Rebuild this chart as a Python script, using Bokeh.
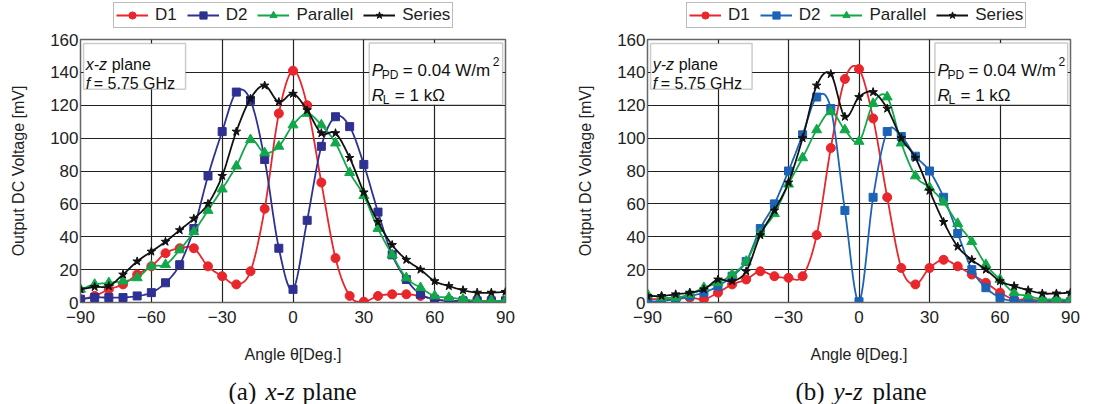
import numpy as np
from bokeh.plotting import figure
from bokeh.layouts import row, column
from bokeh.models import Legend, LegendItem, Label, BoxAnnotation, FixedTicker, Range1d
from bokeh.embed import file_html
from bokeh.resources import INLINE

angles = list(range(-90, 91, 6))

# (a) x-z plane
xz_d1 = [2, 4, 8, 11, 17, 22, 30, 33, 33, 22, 16, 11, 19, 57, 115, 141, 120, 73, 27, 4,
         0.5, 4, 5, 5, 4, 2, 1, 1, 1, 1, 1]
xz_d2 = [2, 3, 3, 3, 4, 6, 12, 23, 45, 77, 104, 128, 123, 87, 33, 8, 50, 95, 113, 107,
         84, 55, 29, 14, 5, 2, 1, 1, 1, 1, 1]
xz_par = [8, 11, 12, 13, 15, 22, 23, 32, 43, 56, 69, 83, 99, 91, 95, 108, 115, 108, 97, 79,
          65, 45, 29, 15, 9, 4, 3, 2, 1, 1, 1]
xz_ser = [8, 9.5, 10, 17, 25, 31, 37, 44, 51, 60, 77, 104, 124, 132, 122, 127, 117, 103, 103, 88,
          67, 49, 35, 26, 20, 13, 10, 7.5, 6, 6, 6.5]

# (b) y-z plane
yz_d1 = [2, 2, 2, 3, 2, 6, 11, 14, 19, 16, 15, 16, 41, 94, 136, 142, 112, 64, 21, 11,
         21, 26, 22, 17, 12, 6, 2, 2, 1, 1, 1]
yz_d2 = [0.5, 1, 2, 4, 6, 10, 16, 25, 45, 60, 80, 102, 125, 118, 56, 0.5, 64, 104, 101, 89,
         80, 64, 42, 20, 9, 3, 1, 1, 0.5, 0.5, 0.5]
yz_par = [5, 3, 3, 5, 9, 12, 17, 25, 42, 54, 72, 88, 105, 116, 105, 98, 121, 125, 97, 77,
          70, 61, 48, 37, 23, 14, 6, 4, 2, 2, 1.5]
yz_ser = [4, 4, 5, 6, 8, 14, 13, 19, 41, 56, 73, 100, 132, 139, 113, 125, 128, 118, 100, 88,
          68, 49, 34, 26, 20, 13, 10, 7.5, 5.5, 5.5, 6]

series_names = ["D1", "D2", "Parallel", "Series"]
x_ticks = [-90, -60, -30, 0, 30, 60, 90]
y_ticks = [0, 20, 40, 60, 80, 100, 120, 140, 160]

RED = "#e8262b"
GREEN = "#12a84a"
BLACK = "#111111"
FONT = "Liberation Sans"
SERIF = "Liberation Serif"

LEG_H = 29     # legend strip height
CAP_H = 36     # caption strip height
MAIN_H = 404 - LEG_H - CAP_H


def smooth(x, y, n=10):
    """Catmull-Rom curve through the measured points (for the drawn line only)."""
    x = np.asarray(x, float)
    y = np.asarray(y, float)
    px = np.concatenate([[2 * x[0] - x[1]], x, [2 * x[-1] - x[-2]]])
    py = np.concatenate([[2 * y[0] - y[1]], y, [2 * y[-1] - y[-2]]])
    t = np.linspace(0, 1, n, endpoint=False)
    ox, oy = [], []
    for i in range(1, len(px) - 2):
        for arr, out in ((px, ox), (py, oy)):
            p0, p1, p2, p3 = arr[i - 1], arr[i], arr[i + 1], arr[i + 2]
            out.extend(0.5 * (2 * p1 + (-p0 + p2) * t + (2 * p0 - 5 * p1 + 4 * p2 - p3) * t ** 2
                              + (-p0 + 3 * p1 - 3 * p2 + p3) * t ** 3))
    ox.append(x[-1])
    oy.append(y[-1])
    return ox, oy


def strip(width, height, bl, br):
    fw = width - bl - br
    s = figure(width=width, height=height, x_range=Range1d(0, fw), y_range=Range1d(0, height),
               output_backend="svg", toolbar_location=None,
               x_axis_location=None, y_axis_location=None,
               min_border_left=bl, min_border_right=br, min_border_top=0, min_border_bottom=0)
    s.outline_line_color = None
    s.xgrid.visible = False
    s.ygrid.visible = False
    s.background_fill_color = "white"
    s.border_fill_color = "white"
    # a range far away from the strip's view, for legend swatch renderers
    s.extra_y_ranges = {"off": Range1d(10000, 10001)}
    return s


def panel(width, bl, br, d1, d2, par, ser, blue, plane, tag, cap_x, cap_offsets, leg_x):
    p = figure(width=width, height=MAIN_H, x_range=Range1d(-90, 90), y_range=Range1d(0, 160),
               output_backend="svg", toolbar_location=None,
               min_border_left=bl, min_border_right=br,
               min_border_top=39 - LEG_H, min_border_bottom=(404 - CAP_H) - 302)
    p.background_fill_color = "white"
    p.border_fill_color = "white"
    p.outline_line_color = "#666666"
    p.outline_line_width = 1.5

    p.xaxis.ticker = FixedTicker(ticks=x_ticks)
    p.yaxis.ticker = FixedTicker(ticks=y_ticks)
    p.xgrid.ticker = FixedTicker(ticks=x_ticks)
    p.ygrid.ticker = FixedTicker(ticks=y_ticks)
    for g in (p.xgrid, p.ygrid):
        g.grid_line_color = "#222222"
        g.grid_line_width = 1.2
        g.grid_line_alpha = 1.0
    for ax in (p.xaxis, p.yaxis):
        ax.major_tick_line_color = None
        ax.minor_tick_line_color = None
        ax.major_tick_out = 0
        ax.major_tick_in = 0
        ax.axis_line_color = "#666666"
        ax.major_label_text_font = FONT
        ax.major_label_text_font_size = "17px"
        ax.major_label_text_color = "#222222"
        ax.axis_label_text_font = FONT
        ax.axis_label_text_font_size = "16px"
        ax.axis_label_text_font_style = "normal"
        ax.axis_label_text_color = "#222222"
    p.xaxis.major_label_standoff = 8
    p.yaxis.major_label_standoff = 2
    p.xaxis.axis_label = "Angle θ[Deg.]"
    p.yaxis.axis_label = "Output DC Voltage [mV]"
    p.xaxis.axis_label_standoff = 20
    p.yaxis.axis_label_standoff = 20

    # legend strip above the chart (same frame alignment as the chart)
    lg = strip(width, LEG_H, bl, br)

    specs = [
        (d1, RED, "circle", 9),
        (d2, blue, "square", 8),
        (par, GREEN, "triangle", 10),
        (ser, BLACK, "star", 9),
    ]
    items = []
    for (vals, col, mk, sz), name in zip(specs, series_names):
        sx, sy = smooth(angles, vals)
        p.line(sx, sy, line_color=col, line_width=1.8)
        p.scatter(angles, vals, marker=mk, size=sz, fill_color=col, line_color=col)
        # legend swatches: same data, on a range outside the strip's view
        ln = lg.line(angles, vals, line_color=col, line_width=1.8, y_range_name="off")
        sc = lg.scatter(angles, vals, marker=mk, size=sz, fill_color=col, line_color=col,
                        y_range_name="off")
        items.append(LegendItem(label=name, renderers=[ln, sc]))

    legend = Legend(items=items, orientation="horizontal", location=(leg_x - bl, 1),
                    glyph_width=32, glyph_height=18, label_standoff=7, spacing=10,
                    padding=2, margin=0, border_line_color="#777777", border_line_width=1.5,
                    label_text_font=FONT, label_text_font_size="17px",
                    label_text_color="#222222", background_fill_color="white")
    lg.add_layout(legend)

    # info boxes
    p.add_layout(BoxAnnotation(left=-88.7, right=-45.5, top=157.5, bottom=129.8,
                               fill_color="white", fill_alpha=1.0,
                               line_color="#555555", line_width=1.5, level="overlay"))
    p.add_layout(BoxAnnotation(left=32.3, right=88.8, top=157.8, bottom=120.3,
                               fill_color="white", fill_alpha=1.0,
                               line_color="#555555", line_width=1.5, level="overlay"))

    def txt(fig, x, y, s, size="16px", style="normal", xo=0, font=FONT, color="#111111"):
        fig.add_layout(Label(x=x, y=y, text=s, x_offset=xo, text_font=font,
                             text_font_size=size, text_font_style=style,
                             text_color=color, text_baseline="alphabetic", level="overlay"))

    txt(p, -87.8, 145.0, plane, style="italic")
    txt(p, -87.8, 145.0, "plane", xo=26)
    txt(p, -87.8, 133.0, "f", style="italic")
    txt(p, -87.8, 133.0, "= 5.75 GHz", xo=8)

    txt(p, 33.4, 141.0, "P", size="17px", style="italic")
    txt(p, 33.4, 138.2, "PD", size="12px", xo=10)
    txt(p, 33.4, 141.0, "= 0.04 W/m", size="17px", xo=31)
    txt(p, 33.4, 146.5, "2", size="12px", xo=121)
    txt(p, 33.4, 125.8, "R", size="17px", style="italic")
    txt(p, 33.4, 123.0, "L", size="12px", xo=11)
    txt(p, 33.4, 125.8, "= 1 kΩ", size="17px", xo=23)

    # caption strip below the chart
    cp = strip(width, CAP_H, bl, br)
    txt(cp, cap_x - bl, 13, tag, size="25px", font=SERIF)
    txt(cp, cap_x - bl, 13, plane, size="25px", style="italic", font=SERIF, xo=cap_offsets[0])
    txt(cp, cap_x - bl, 13, "plane", size="25px", font=SERIF, xo=cap_offsets[1])
    return column(lg, p, cp)


p1 = panel(560, 80, 55, xz_d1, xz_d2, xz_par, xz_ser, "#2e3192", "x-z", "(a)",
           228, (37, 74), 113)
p2 = panel(556, 87, 46, yz_d1, yz_d2, yz_par, yz_ser, "#1c63b7", "y-z", "(b)",
           235, (38, 77), 126)

layout = row(p1, p2)
open("out.html", "w").write(file_html(layout, INLINE))
